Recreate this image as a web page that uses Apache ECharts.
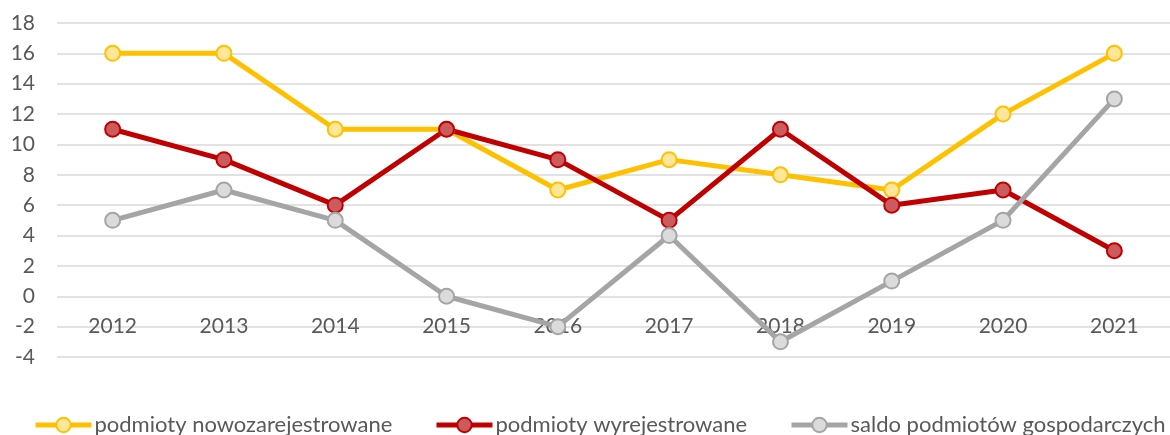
<!DOCTYPE html>
<html>
<head>
<meta charset="utf-8">
<script src="https://cdn.jsdelivr.net/npm/echarts@6/dist/echarts.min.js"></script>
<style>
  html, body { margin: 0; padding: 0; background: #fff; }
  #chart { width: 1170px; height: 435px; }
</style>
</head>
<body>
<div id="chart"></div>
<script>
const years = ['2012', '2013', '2014', '2015', '2016', '2017', '2018', '2019', '2020', '2021']
const nowe = [16, 16, 11, 11, 7, 9, 8, 7, 12, 16]
const wyrejestrowane = [11, 9, 6, 11, 9, 5, 11, 6, 7, 3]
const saldo = [5, 7, 5, 0, -2, 4, -3, 1, 5, 13]
const names = ['podmioty nowozarejestrowane', 'podmioty wyrejestrowane', 'saldo podmiotów gospodarczych']

const font = "Lato, 'Open Sans', sans-serif"

function lineSeries(name, data, color, fill) {
  return {
    name: name,
    type: 'line',
    data: data,
    symbol: 'circle',
    symbolSize: 15,
    lineStyle: { color: color, width: 5 },
    itemStyle: { color: fill, borderColor: color, borderWidth: 2 },
    emphasis: { disabled: true }
  }
}

// Excel spaces the legend entries unevenly, so one legend per entry
function legendAt(name, left) {
  return {
    data: [name],
    top: 414,
    left: left,
    padding: 0,
    itemWidth: 56,
    itemHeight: 18,
    itemGap: 0,
    selectedMode: false,
    lineStyle: { width: 5 },
    textStyle: { fontSize: 22, color: '#595959', fontFamily: font, padding: [0, 0, 0, -2] }
  }
}

const chart = echarts.init(document.getElementById('chart'))
chart.setOption({
  animation: false,
  textStyle: { fontFamily: font },
  grid: { left: 57, right: 0, top: 23, bottom: 78 },
  legend: [
    legendAt(names[0], 33),
    legendAt(names[1], 434),
    legendAt(names[2], 789)
  ],
  xAxis: {
    type: 'category',
    data: years,
    boundaryGap: true,
    axisLine: { show: false, onZero: false },
    axisTick: { show: false },
    axisLabel: { fontSize: 21, color: '#595959', margin: -41 }
  },
  yAxis: {
    type: 'value',
    min: -4,
    max: 18,
    interval: 2,
    axisLine: { show: false },
    axisTick: { show: false },
    axisLabel: { fontSize: 21, color: '#595959', margin: 22 },
    splitLine: { lineStyle: { color: '#D9D9D9', width: 1.5 } }
  },
  series: [
    lineSeries(names[0], nowe, '#FFC000', '#FFE699'),
    lineSeries(names[1], wyrejestrowane, '#C00000', '#CC5B5E'),
    lineSeries(names[2], saldo, '#A5A5A5', '#DBDBDB')
  ]
})
</script>
</body>
</html>
